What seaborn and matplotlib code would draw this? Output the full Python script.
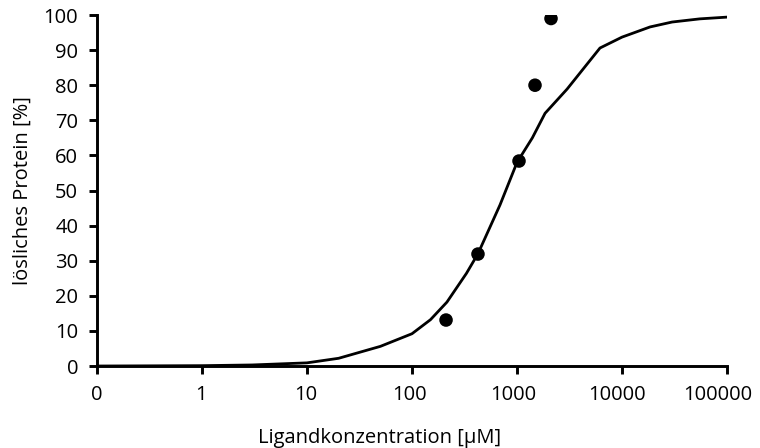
import matplotlib
matplotlib.use("Agg")
import matplotlib.pyplot as plt
import matplotlib.transforms as mtransforms
import seaborn as sns
import pandas as pd
from matplotlib.ticker import FixedLocator, FixedFormatter, NullLocator

# Measured solubility (ligand concentration in µM, soluble protein in %)
conc_points = [211, 425, 1045, 1484, 2108]
protein_points = [13.1, 31.9, 58.4, 80.0, 99.0]

# Fitted dose-response curve, sampled along the concentration axis
curve_conc = [0.1, 1, 3, 10, 20, 50, 100, 150, 215, 330, 425, 689, 1000,
              1400, 1850, 3000, 4645, 6170, 10000, 18500, 30000, 55000, 100000]
curve_protein = [0.0, 0.1, 0.3, 0.9, 2.2, 5.6, 9.2, 13.2, 18.2, 26.4, 32.0,
                 45.9, 58.0, 65.0, 72.0, 78.9, 86.0, 90.6, 93.7, 96.6, 98.0,
                 98.9, 99.4]

x_ticks = [0.1, 1, 10, 100, 1000, 10000, 100000]
x_tick_labels = ["0", "1", "10", "100", "1000", "10000", "100000"]
y_ticks = list(range(0, 101, 10))

sns.set_theme(style="ticks")
plt.rcParams["font.family"] = ["Open Sans", "DejaVu Sans"]

fig = plt.figure(figsize=(7.6, 4.48), dpi=100)
ax = fig.add_axes([0.1276, 0.183, 0.829, 0.7835])

curve_df = pd.DataFrame({"conc": curve_conc, "protein": curve_protein})
points_df = pd.DataFrame({"conc": conc_points, "protein": protein_points})

sns.lineplot(data=curve_df, x="conc", y="protein", ax=ax, color="black",
             linewidth=2.0, estimator=None, sort=True, zorder=2)
sns.scatterplot(data=points_df, x="conc", y="protein", ax=ax, color="black",
                s=95, edgecolor="none", zorder=3)

ax.set_xscale("log")
ax.set_xlim(0.1, 100000)
ax.set_ylim(0, 100)
ax.xaxis.set_major_locator(FixedLocator(x_ticks))
ax.xaxis.set_major_formatter(FixedFormatter(x_tick_labels))
ax.xaxis.set_minor_locator(NullLocator())
ax.set_yticks(y_ticks)

sns.despine(ax=ax)
for side in ("left", "bottom"):
    ax.spines[side].set_linewidth(2.1)
    ax.spines[side].set_color("black")
ax.tick_params(axis="both", which="major", direction="out", length=5.5,
               width=2.1, color="black", labelsize=14.5, labelcolor="black",
               pad=8)

# nudge the longer x tick labels slightly leftwards
label_shift_px = [0, -1, -1, -3, -4, -5, -9]
for lbl, dx in zip(ax.get_xticklabels(), label_shift_px):
    offset = mtransforms.ScaledTranslation(dx * 0.72 / 72, 0, fig.dpi_scale_trans)
    lbl.set_transform(lbl.get_transform() + offset)

ax.set_xlabel("Ligandkonzentration [µM]", fontsize=14.5, color="black")
ax.xaxis.set_label_coords(0.449, -0.176)
ax.set_ylabel("lösliches Protein [%]", fontsize=14.5, color="black",
              labelpad=8)
ax.set_facecolor("white")
fig.patch.set_facecolor("white")

fig.savefig("out.png", dpi=100)
